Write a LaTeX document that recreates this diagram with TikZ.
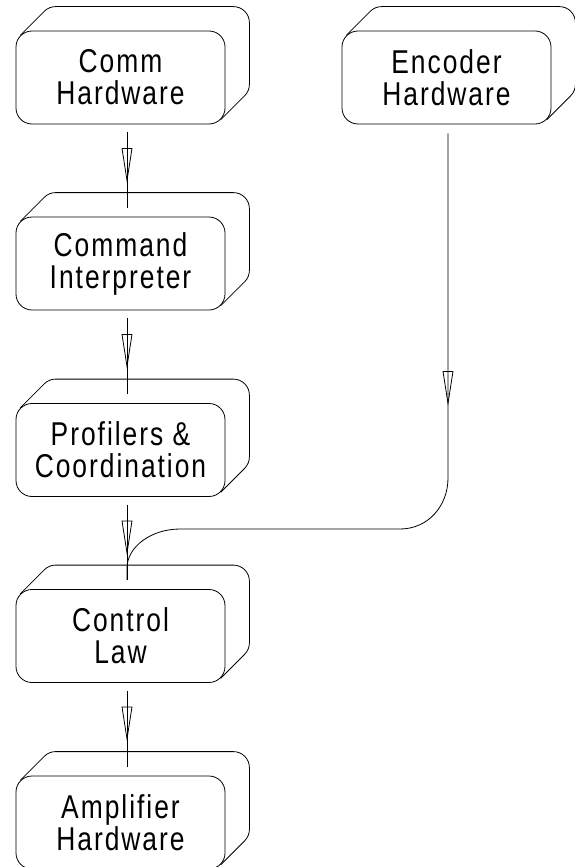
\documentclass[tikz,border=0pt]{standalone}
\usepackage{fontspec}
\setmainfont{Liberation Sans}[FakeStretch=0.8,LetterSpace=6]
\usetikzlibrary{calc,decorations.markings}
\tikzset{
  frontbox/.style={draw, line width=0.8pt, rounded corners=16pt, minimum width=209pt, minimum height=93pt,
    inner sep=0pt, align=center, font=\fontsize{33}{32}\selectfont},
  link/.style={line width=0.8pt},
  opentri/.style={postaction={decorate, decoration={markings,
    mark=at position #1 with {\draw[line width=0.8pt] (0pt,-5pt) -- (32pt,0pt) -- (0pt,5pt) -- cycle;}}}}
}
\newcommand{\backface}[1]{%
  \draw[line width=0.8pt] ($(#1.north west)+(4.686pt,-4.686pt)$) -- ++(24pt,24pt)
    arc[start angle=135,end angle=90,radius=16pt]
    -- ($(#1.north east)+(8pt,24pt)$)
    arc[start angle=90,end angle=0,radius=16pt]
    -- ($(#1.south east)+(24pt,40pt)$)
    arc[start angle=0,end angle=-45,radius=16pt]
    -- ($(#1.south east)+(-4.686pt,4.686pt)$);}
\begin{document}
\begin{tikzpicture}[x=1pt,y=1pt]
\useasboundingbox (0,0) rectangle (574,-867);
\node[frontbox] (comm) at (120.5,-77.5) {Comm\\Hardware};
\node[frontbox] (enc) at (446.5,-77.5) {Encoder\\Hardware};
\node[frontbox] (cmd) at (120.5,-263.5) {Command\\Interpreter};
\node[frontbox] (prof) at (120.5,-450) {Profilers \&\\Coordination};
\node[frontbox] (ctrl) at (120.5,-636) {Control\\Law};
\node[frontbox] (amp) at (120.5,-822.5) {Amplifier\\Hardware};
\foreach \n in {comm,enc,cmd,prof,ctrl,amp} {\backface{\n}}
\draw[link, opentri=16pt] ($(comm.south)+(6.5,-8)$) -- ($(cmd.north)+(6.5,9)$);
\draw[link, opentri=16pt] ($(cmd.south)+(6.5,-8)$) -- ($(prof.north)+(6.5,9)$);
\draw[link, opentri=16pt] ($(prof.south)+(6.5,-8)$) -- ($(ctrl.north)+(6.5,9)$);
\draw[link, opentri=16pt] ($(ctrl.south)+(6.5,-8)$) -- ($(amp.north)+(6.5,9)$);
\coordinate (e1) at ($(enc.south)+(1.5,-9)$);
\coordinate (e2) at ($(ctrl.north)+(6.5,9)$);
\draw[link, opentri=238pt] (e1) -- (448,-478)
  .. controls (448,-506) and (428,-529) .. (400,-529)
  -- (180,-529)
  .. controls (151,-529) and (127,-547) .. (127,-568)
  -- (e2);
\end{tikzpicture}
\end{document}
